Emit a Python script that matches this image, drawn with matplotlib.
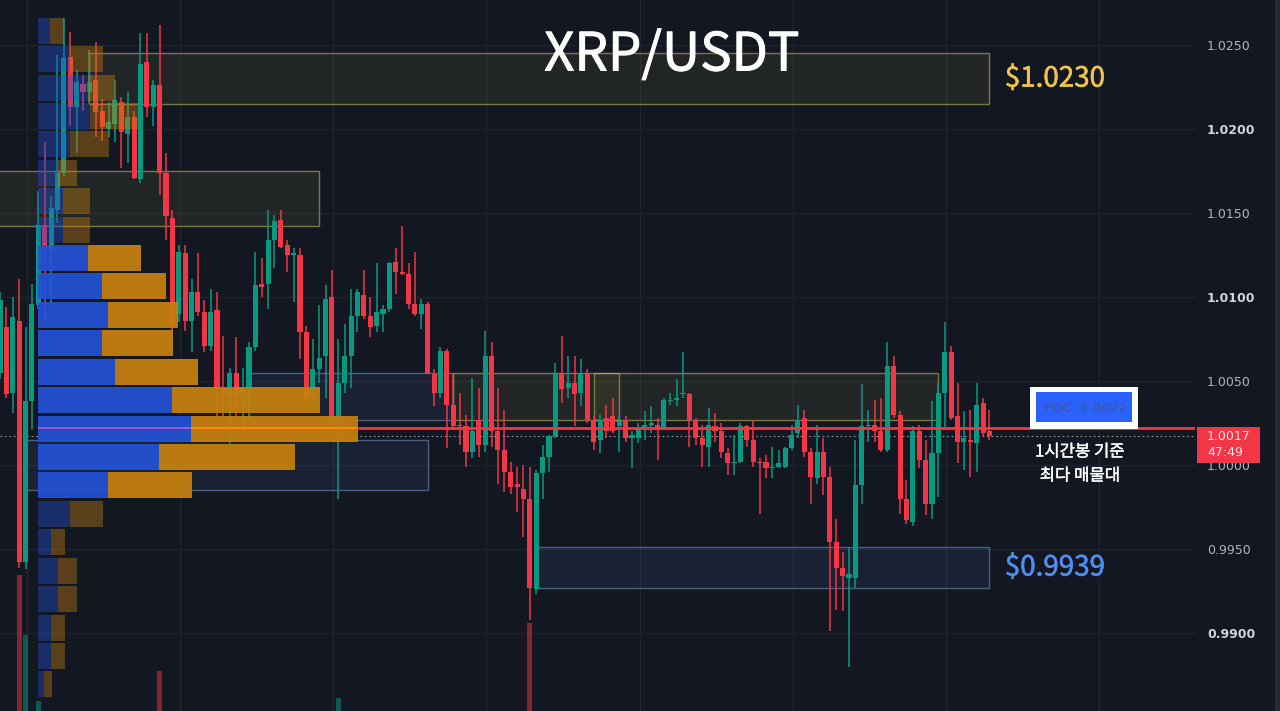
import numpy as np
import matplotlib.pyplot as plt
import matplotlib.patheffects as pe
from matplotlib.patches import Rectangle

# XRP/USDT 1h candles, oldest first
opens = [
    1.0055, 1.0082, 1.0043, 1.0086, 0.9942, 1.0038, 1.0095, 1.0143, 1.0128, 1.0152,
    1.0174, 1.0243, 1.0213, 1.0227, 1.0222, 1.0229, 1.0211, 1.0200, 1.0203, 1.0216,
    1.0197, 1.0207, 1.0170, 1.0240, 1.0213, 1.0226, 1.0174, 1.0147, 1.0090, 1.0126,
    1.0086, 1.0103, 1.0091, 1.0071, 1.0092, 1.0046, 1.0042, 1.0055, 1.0042, 1.0046,
    1.0070, 1.0108, 1.0108, 1.0134, 1.0146, 1.0131, 1.0125, 1.0125, 1.0079, 1.0040,
    1.0057, 1.0065, 1.0100, 1.0029, 1.0049, 1.0065, 1.0089, 1.0101, 1.0089, 1.0083,
    1.0090, 1.0093, 1.0121, 1.0115, 1.0114, 1.0096, 1.0090, 1.0096, 1.0054, 1.0043,
    1.0068, 1.0036, 1.0024, 1.0023, 1.0008, 1.0027, 1.0012, 1.0065, 1.0020, 1.0009,
    0.9996, 0.9989, 0.9986, 0.9980, 0.9926, 0.9995, 1.0005, 1.0017, 1.0055, 1.0046,
    1.0049, 1.0043, 1.0055, 1.0027, 1.0015, 1.0028, 1.0029, 1.0023, 1.0027, 1.0016,
    1.0016, 1.0021, 1.0024, 1.0024, 1.0022, 1.0038, 1.0039, 1.0042, 1.0042, 1.0027,
    1.0016, 1.0011, 1.0023, 1.0020, 1.0007, 1.0001, 1.0002, 1.0023, 1.0015, 1.0002,
    1.0002, 0.9998, 0.9999, 0.9999, 1.0010, 1.0019, 1.0028, 1.0008, 0.9992, 1.0008,
    0.9993, 0.9954, 0.9939, 0.9933, 0.9933, 0.9988, 1.0023, 1.0024, 1.0020, 1.0009,
    1.0059, 1.0030, 0.9980, 0.9966, 1.0020, 1.0003, 0.9977, 1.0007, 1.0043, 1.0067,
    1.0029, 1.0014, 1.0015, 1.0013, 1.0037, 1.0020,
]
highs = [
    1.0103, 1.0094, 1.0100, 1.0111, 1.0082, 1.0108, 1.0163, 1.0192, 1.0160, 1.0244,
    1.0266, 1.0258, 1.0235, 1.0232, 1.0247, 1.0252, 1.0218, 1.0216, 1.0229, 1.0219,
    1.0222, 1.0211, 1.0257, 1.0257, 1.0229, 1.0262, 1.0186, 1.0152, 1.0131, 1.0131,
    1.0111, 1.0126, 1.0098, 1.0105, 1.0103, 1.0077, 1.0058, 1.0076, 1.0058, 1.0073,
    1.0127, 1.0123, 1.0152, 1.0149, 1.0152, 1.0134, 1.0129, 1.0129, 1.0083, 1.0075,
    1.0095, 1.0107, 1.0116, 1.0075, 1.0084, 1.0105, 1.0105, 1.0116, 1.0100, 1.0120,
    1.0095, 1.0121, 1.0129, 1.0142, 1.0120, 1.0127, 1.0099, 1.0097, 1.0057, 1.0070,
    1.0069, 1.0055, 1.0043, 1.0030, 1.0052, 1.0046, 1.0080, 1.0073, 1.0046, 1.0033,
    1.0002, 0.9999, 1.0000, 0.9999, 0.9997, 1.0012, 1.0018, 1.0061, 1.0077, 1.0065,
    1.0065, 1.0063, 1.0057, 1.0029, 1.0030, 1.0036, 1.0040, 1.0029, 1.0029, 1.0020,
    1.0025, 1.0032, 1.0035, 1.0028, 1.0040, 1.0043, 1.0051, 1.0067, 1.0043, 1.0028,
    1.0024, 1.0034, 1.0031, 1.0025, 1.0010, 1.0018, 1.0025, 1.0024, 1.0027, 1.0004,
    1.0006, 1.0011, 1.0009, 1.0011, 1.0024, 1.0036, 1.0033, 1.0010, 1.0024, 1.0016,
    0.9999, 0.9968, 0.9948, 0.9951, 1.0015, 1.0048, 1.0033, 1.0039, 1.0040, 1.0073,
    1.0065, 1.0032, 0.9991, 1.0023, 1.0024, 1.0015, 1.0038, 1.0049, 1.0085, 1.0071,
    1.0049, 1.0032, 1.0033, 1.0049, 1.0040, 1.0033,
]
lows = [
    1.0051, 1.0040, 1.0031, 0.9939, 0.9938, 1.0021, 1.0093, 1.0083, 1.0093, 1.0144,
    1.0172, 1.0202, 1.0186, 1.0211, 1.0215, 1.0195, 1.0193, 1.0195, 1.0192, 1.0177,
    1.0180, 1.0170, 1.0168, 1.0207, 1.0202, 1.0161, 1.0134, 1.0080, 1.0085, 1.0080,
    1.0067, 1.0089, 1.0067, 1.0068, 1.0029, 1.0028, 1.0009, 1.0029, 1.0019, 1.0027,
    1.0068, 1.0100, 1.0093, 1.0117, 1.0129, 1.0115, 1.0097, 1.0063, 1.0036, 1.0036,
    1.0049, 1.0040, 1.0029, 0.9980, 1.0043, 1.0046, 1.0079, 1.0087, 1.0076, 1.0079,
    1.0079, 1.0091, 1.0102, 1.0113, 1.0093, 1.0089, 1.0081, 1.0054, 1.0035, 1.0040,
    1.0010, 1.0021, 1.0012, 0.9999, 1.0004, 1.0005, 1.0008, 1.0011, 0.9989, 0.9984,
    0.9983, 0.9972, 0.9957, 0.9908, 0.9923, 0.9980, 0.9996, 1.0016, 1.0037, 1.0040,
    1.0023, 1.0035, 1.0025, 1.0009, 1.0007, 1.0016, 1.0019, 1.0008, 1.0014, 0.9998,
    1.0013, 1.0015, 1.0019, 1.0003, 1.0021, 1.0036, 1.0035, 1.0040, 1.0011, 1.0012,
    0.9999, 0.9999, 1.0014, 1.0004, 0.9994, 0.9994, 1.0001, 1.0011, 0.9999, 0.9971,
    0.9992, 0.9992, 0.9998, 0.9998, 1.0009, 1.0016, 1.0005, 0.9977, 0.9989, 0.9982,
    0.9901, 0.9914, 0.9913, 0.9880, 0.9927, 0.9977, 1.0014, 1.0014, 1.0008, 1.0008,
    1.0028, 0.9971, 0.9965, 0.9964, 0.9998, 0.9970, 0.9968, 0.9981, 1.0021, 1.0027,
    1.0001, 0.9997, 0.9993, 0.9996, 1.0017, 1.0015,
]
closes = [
    1.0098, 1.0042, 1.0088, 0.9942, 1.0038, 1.0096, 1.0143, 1.0129, 1.0153, 1.0174,
    1.0242, 1.0213, 1.0228, 1.0222, 1.0228, 1.0210, 1.0201, 1.0204, 1.0217, 1.0198,
    1.0207, 1.0171, 1.0239, 1.0213, 1.0226, 1.0174, 1.0148, 1.0085, 1.0127, 1.0086,
    1.0103, 1.0091, 1.0071, 1.0091, 1.0046, 1.0043, 1.0055, 1.0042, 1.0046, 1.0070,
    1.0107, 1.0106, 1.0134, 1.0145, 1.0130, 1.0125, 1.0126, 1.0079, 1.0040, 1.0057,
    1.0064, 1.0099, 1.0029, 1.0049, 1.0065, 1.0089, 1.0103, 1.0089, 1.0082, 1.0091,
    1.0093, 1.0120, 1.0115, 1.0114, 1.0096, 1.0090, 1.0096, 1.0054, 1.0043, 1.0068,
    1.0036, 1.0023, 1.0023, 1.0008, 1.0020, 1.0012, 1.0065, 1.0020, 1.0009, 0.9996,
    0.9987, 0.9987, 0.9980, 0.9927, 0.9995, 1.0005, 1.0017, 1.0055, 1.0045, 1.0049,
    1.0042, 1.0055, 1.0027, 1.0014, 1.0027, 1.0020, 1.0020, 1.0026, 1.0016, 1.0018,
    1.0022, 1.0024, 1.0025, 1.0021, 1.0039, 1.0039, 1.0040, 1.0043, 1.0027, 1.0016,
    1.0012, 1.0024, 1.0020, 1.0008, 1.0001, 1.0002, 1.0023, 1.0015, 1.0002, 1.0001,
    0.9998, 0.9999, 1.0001, 1.0010, 1.0018, 1.0027, 1.0008, 0.9993, 1.0008, 0.9993,
    0.9954, 0.9939, 0.9934, 0.9935, 0.9988, 1.0023, 1.0024, 1.0020, 1.0009, 1.0059,
    1.0030, 0.9980, 0.9967, 1.0020, 1.0003, 0.9977, 1.0007, 1.0043, 1.0067, 1.0028,
    1.0014, 1.0016, 1.0014, 1.0036, 1.0019, 1.0017,
]

# only the volume bars tall enough to show at the bottom edge
vol_idx = [3, 4, 6, 25, 53, 83]
vol_val = [74, 54, 32, 42, 33, 58]

# volume profile, top row first (buy / sell)
vp_buy = [12, 32, 50, 52, 32, 20, 25, 25, 50, 64, 70, 64, 77, 134, 153, 121, 70, 32, 13, 20, 20, 13, 13, 6]
vp_sell = [14, 33, 27, 48, 39, 19, 27, 27, 53, 64, 70, 71, 83, 148, 167, 136, 84, 33, 14, 19, 19, 14, 14, 8]
vp_top, vp_bottom = 1.0267, 0.9861
value_area = range(8, 17)
poc_row = 14

poc = 1.0022
last_price = 1.0017
countdown = "47:49"

# supply / demand zones: start candle, end candle, top, bottom, kind
zones = [
    (14, 155, 1.0245, 1.0215, 'sell'),
    (-3, 50, 1.0175, 1.0142, 'sell'),
    (39, 71, 1.0055, 1.0027, 'buy'),
    (4, 67, 1.0015, 0.9985, 'buy'),
    (71, 97, 1.0055, 1.0027, 'sell'),
    (93, 147, 1.0055, 1.0027, 'sell'),
    (84, 155, 0.9951, 0.9927, 'buy'),
]
yticks = [0.9900, 0.9950, 1.0000, 1.0050, 1.0100, 1.0150, 1.0200, 1.0250]
bold_ticks = [0.9900, 1.0100, 1.0200]

BG = '#131722'
GRID = '#20242f'
UP = '#089981'
DOWN = '#f23645'
KR = ['Noto Sans CJK KR', 'DejaVu Sans']


def thick(color, w):
    # fake a heavier weight by stroking the glyph outline
    return [pe.withStroke(linewidth=w, foreground=color)]


fig = plt.figure(figsize=(12.8, 7.11), dpi=100, facecolor=BG)
plot_w = 1195 / 1280
ylim = (0.98536, 1.02768)

ax = fig.add_axes([0, 0, plot_w, 1], facecolor=BG)
ax.set_xlim(0, 187.2)
ax.set_ylim(*ylim)
for s in ax.spines.values():
    s.set_visible(False)
ax.set_xticks([])
ax.yaxis.tick_right()
ax.set_yticks(yticks)
ax.set_yticklabels([f"{v:.4f}" for v in yticks])
ax.tick_params(axis='y', length=0, pad=8.6, labelcolor='#b2b5be', labelsize=9)
for lbl, v in zip(ax.get_yticklabels(), yticks):
    if v in bold_ticks:
        lbl.set_fontweight('bold')
        lbl.set_color('#d1d4dc')

for p in yticks:
    ax.axhline(p, color=GRID, lw=1, zorder=0)
for v in np.arange(4.2, 187, 24):
    ax.axvline(v, color=GRID, lw=1, zorder=0)

for x0, x1, top, bot, kind in zones:
    if kind == 'sell':
        fc, ec = (0.85, 0.8, 0.3, 0.08), (0.8, 0.75, 0.4, 0.55)
    else:
        fc, ec = (0.35, 0.55, 0.9, 0.09), (0.45, 0.6, 0.8, 0.55)
    ax.add_patch(Rectangle((x0, bot), x1 - x0, top - bot, facecolor=fc,
                           edgecolor=ec, lw=1, zorder=1))

o = np.array(opens)
h = np.array(highs)
l = np.array(lows)
c = np.array(closes)
x = np.arange(len(o))
col = np.where(c >= o, UP, DOWN)
ax.vlines(x, l, h, colors=col, lw=1.1, zorder=3)
ax.bar(x, np.maximum(np.abs(c - o), 0.00007), bottom=np.minimum(o, c),
       width=0.8, color=col, lw=0, zorder=3)

ax.axhline(last_price, color='#9598a1', lw=0.8, ls=(0, (1.5, 2.5)), zorder=2)

# volume histogram, mostly below the visible area
vax = fig.add_axes([0, -0.12, plot_w, 0.42])
vax.patch.set_visible(False)
vax.set_xlim(ax.get_xlim())
vax.set_ylim(0, 100)
vcol = [UP if closes[i] >= opens[i] else DOWN for i in vol_idx]
vax.bar(vol_idx, vol_val, width=0.8, color=vcol, alpha=0.5, lw=0)
vax.axis('off')

# volume profile on the left
pax = fig.add_axes([0, 0, plot_w, 1])
pax.patch.set_visible(False)
pax.set_xlim(-38, 1157)
pax.set_ylim(*ylim)
pax.axis('off')
nrow = len(vp_buy)
step = (vp_top - vp_bottom) / nrow
centers = vp_top - step * (np.arange(nrow) + 0.5)
buy = np.array(vp_buy)
sell = np.array(vp_sell)
for i in range(nrow):
    a = 0.93 if i in value_area else 0.4
    pax.barh(centers[i], buy[i], height=step * 0.915, left=0,
             color='#2352d6', alpha=a, lw=0)
    pax.barh(centers[i], sell[i], height=step * 0.915, left=buy[i],
             color='#c7800f', alpha=a, lw=0)
pax.hlines(poc, 0, buy[poc_row], color='#9b59d0', lw=1.5)
pax.hlines(poc, buy[poc_row], buy[poc_row] + sell[poc_row], color='#ff8a00', lw=1.5)
pax.hlines(poc, buy[poc_row] + sell[poc_row], 1200, color=DOWN, lw=2)

# labels
ax.text(157.4, 1.0230, '$1.0230', color='#f2c24c', fontsize=20, family=KR,
        va='center', ha='left', zorder=5, path_effects=thick('#f2c24c', 0.4))
ax.text(157.4, 0.9939, '$0.9939', color='#4b8ef5', fontsize=20, family=KR,
        va='center', ha='left', zorder=5, path_effects=thick('#4b8ef5', 0.4))

fig.text(672 / 1280, 1 - 55 / 711, 'XRP/USDT', color='white', fontsize=38,
         family=KR, ha='center', va='center', path_effects=thick('white', 0.7))

fig.add_artist(Rectangle((1030 / 1280, 1 - 429 / 711), 108 / 1280, 42 / 711,
                         transform=fig.transFigure, color='white', lw=0))
fig.add_artist(Rectangle((1036 / 1280, 1 - 422 / 711), 96 / 1280, 30 / 711,
                         transform=fig.transFigure, color='#2962ff', lw=0))
fig.text(1085 / 1280, 1 - 408 / 711, f'POC: {poc:.4f}', color='#4a5680',
         fontsize=9.5, ha='center', va='center')

fig.text(1080 / 1280, 1 - 452 / 711, '1시간봉 기준', color='white', fontsize=12,
         family=KR, ha='center', va='center', path_effects=thick('white', 0.3))
fig.text(1080 / 1280, 1 - 476 / 711, '최다 매물대', color='white', fontsize=12,
         family=KR, ha='center', va='center', path_effects=thick('white', 0.3))

fig.add_artist(Rectangle((1197 / 1280, 1 - 463 / 711), 63 / 1280, 36 / 711,
                         transform=fig.transFigure, color=DOWN, lw=0))
fig.text(1207 / 1280, 1 - 437 / 711, f'{last_price:.4f}', color='#ffe4e6',
         fontsize=9, ha='left', va='center')
fig.text(1207 / 1280, 1 - 453 / 711, countdown, color='#ffe4e6',
         fontsize=9, ha='left', va='center')

fig.add_artist(Rectangle((1275 / 1280, 0), 5 / 1280, 1,
                         transform=fig.transFigure, color='#262a35', lw=0))

fig.savefig('out.png', dpi=100, facecolor=BG)
